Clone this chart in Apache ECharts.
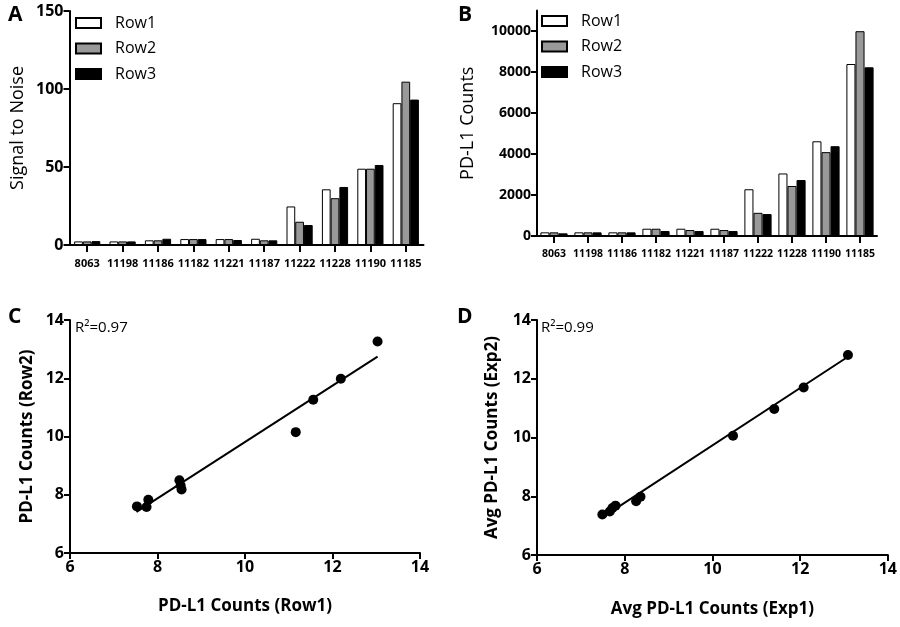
<!DOCTYPE html>
<html>
<head>
<meta charset="utf-8">
<script src="https://cdn.jsdelivr.net/npm/echarts@6/dist/echarts.min.js"></script>
<style>
  html, body { margin: 0; padding: 0; background: #fff; }
  #main { width: 900px; height: 627px; }
</style>
</head>
<body>
<div id="main"></div>
<script>
// data
const categories = ["8063", "11198", "11186", "11182", "11221", "11187", "11222", "11228", "11190", "11185"];
const rowNames = ["Row1", "Row2", "Row3"];

// panel A: signal to noise
const snRow1 = [2.3, 2.3, 3.0, 3.8, 3.8, 4.0, 24.7, 35.7, 48.9, 90.9];
const snRow2 = [2.3, 2.3, 3.0, 3.8, 3.8, 3.0, 14.9, 30.0, 48.9, 104.7];
const snRow3 = [2.5, 2.3, 4.0, 3.8, 3.2, 3.0, 12.8, 37.2, 51.3, 93.2];

// panel B: PD-L1 counts
const countRow1 = [178, 178, 178, 355, 355, 355, 2280, 3050, 4620, 8390];
const countRow2 = [178, 178, 178, 355, 290, 290, 1130, 2440, 4090, 9990];
const countRow3 = [130, 178, 178, 242, 242, 242, 1070, 2730, 4380, 8230];

// panel C: Row1 vs Row2 (log scale values)
const corrRow1 = [7.53, 7.75, 7.79, 8.50, 8.53, 8.55, 11.16, 11.56, 12.19, 13.03];
const corrRow2 = [7.60, 7.58, 7.83, 8.50, 8.32, 8.18, 10.15, 11.26, 11.98, 13.26];
const fitC = [[7.52, 7.41], [13.03, 12.74]];

// panel D: Exp1 vs Exp2
const avgExp1 = [7.49, 7.66, 7.72, 7.79, 8.26, 8.36, 10.47, 11.41, 12.08, 13.09];
const avgExp2 = [7.38, 7.48, 7.60, 7.68, 7.83, 7.98, 10.06, 10.97, 11.70, 12.81];
const fitD = [[7.49, 7.28], [13.09, 12.75]];

const ticksSN = [0, 50, 100, 150];
const ticksCount = [0, 2000, 4000, 6000, 8000, 10000];

const font = "Open Sans";
const barColors = ["#ffffff", "#999999", "#000000"];

function axisLine() {
  return { show: true, lineStyle: { color: "#000", width: 2 } };
}

function catAxis(grid, size, margin) {
  return {
    type: "category", gridIndex: grid, data: categories,
    axisLine: axisLine(),
    axisTick: { show: true, alignWithLabel: true, length: 7, lineStyle: { color: "#000", width: 2 } },
    axisLabel: { color: "#000", fontFamily: font, fontWeight: "bold", fontSize: size, margin: margin, interval: 0 }
  };
}

function valAxis(grid, opts) {
  return Object.assign({
    type: "value", gridIndex: grid,
    axisLine: axisLine(),
    axisTick: { show: true, length: 6, lineStyle: { color: "#000", width: 2 } },
    splitLine: { show: false },
    nameLocation: "middle",
    nameTextStyle: { color: "#000", fontFamily: font, fontSize: 17 }
  }, opts);
}

function tickLabel(size) {
  return { color: "#000", fontFamily: font, fontWeight: "bold", fontSize: size, margin: 6, formatter: v => String(v) };
}

function boldName(size) {
  return { color: "#000", fontFamily: font, fontWeight: "bold", fontSize: size };
}

function bars(values, i, axis, gap) {
  return {
    type: "bar", name: rowNames[i], xAxisIndex: axis, yAxisIndex: axis,
    data: values, barGap: "0%", barCategoryGap: gap,
    itemStyle: { color: barColors[i], borderColor: "#000", borderWidth: 1 }
  };
}

function legend(left, top) {
  return {
    left: left, top: top, orient: "vertical", padding: 0,
    data: rowNames.map(n => ({ name: n })),
    icon: "rect", itemWidth: 25, itemHeight: 10, itemGap: 9.5,
    textStyle: { color: "#000", fontFamily: font, fontSize: 16, padding: [0, 0, 0, 9] }
  };
}

function letter(text, left, top) {
  return { text: text, left: left, top: top, textStyle: { fontFamily: font, fontWeight: "bold", fontSize: 21, color: "#000" } };
}

function rsq(text, left, top) {
  return { text: text, left: left, top: top, padding: 0, textStyle: { fontFamily: font, fontWeight: "normal", fontSize: 15, color: "#000" } };
}

const options = {
  backgroundColor: "#fff",
  animation: false,
  title: [
    letter("A", 3, 0), letter("B", 453, 0), letter("C", 3, 302), letter("D", 452, 302),
    rsq("R²=0.97", 75, 320), rsq("R²=0.99", 541, 320)
  ],
  legend: [legend(75, 15), legend(541, 13)],
  grid: [
    { left: 69.5, top: 11, width: 354, height: 234 },
    { left: 537, top: 10.5, width: 340, height: 225.5 },
    { left: 70, top: 320, width: 350, height: 233 },
    { left: 537, top: 320, width: 353, height: 235 }
  ],
  xAxis: [
    catAxis(0, 11, 13),
    catAxis(1, 10.5, 13),
    valAxis(2, { min: 6, max: 14, interval: 2, name: "PD-L1 Counts (Row1)", nameGap: 45,
      axisLabel: tickLabel(16), nameTextStyle: boldName(17) }),
    valAxis(3, { min: 6, max: 14, interval: 2, name: "Avg PD-L1 Counts (Exp1)", nameGap: 46,
      axisLabel: tickLabel(16), nameTextStyle: boldName(17) })
  ],
  yAxis: [
    valAxis(0, { min: 0, max: 150, interval: 50, name: "Signal to Noise", nameGap: 43,
      nameTextStyle: { color: "#000", fontFamily: font, fontSize: 18 },
      axisLabel: Object.assign(tickLabel(16), { customValues: ticksSN }),
      axisTick: { show: true, length: 6, customValues: ticksSN, lineStyle: { color: "#000", width: 2 } } }),
    valAxis(1, { min: 0, max: 11000, interval: 1000, name: "PD-L1 Counts", nameGap: 60,
      nameTextStyle: { color: "#000", fontFamily: font, fontSize: 18 },
      axisLabel: Object.assign(tickLabel(14), { customValues: ticksCount }),
      axisTick: { show: true, length: 6, customValues: ticksCount, lineStyle: { color: "#000", width: 2 } } }),
    valAxis(2, { min: 6, max: 14, interval: 2, name: "PD-L1 Counts (Row2)", nameGap: 34,
      axisLabel: tickLabel(16), nameTextStyle: boldName(17) }),
    valAxis(3, { min: 6, max: 14, interval: 2, name: "Avg PD-L1 Counts (Exp2)", nameGap: 36,
      axisLabel: tickLabel(16), nameTextStyle: boldName(17) })
  ],
  series: [
    bars(snRow1, 0, 0, "26%"),
    bars(snRow2, 1, 0, "26%"),
    bars(snRow3, 2, 0, "26%"),
    bars(countRow1, 0, 1, "20%"),
    bars(countRow2, 1, 1, "20%"),
    bars(countRow3, 2, 1, "20%"),
    {
      type: "line", xAxisIndex: 2, yAxisIndex: 2, data: fitC, showSymbol: false,
      lineStyle: { color: "#000", width: 2 }, z: 2
    },
    {
      type: "scatter", xAxisIndex: 2, yAxisIndex: 2, symbolSize: 10, z: 3,
      data: corrRow1.map((x, i) => [x, corrRow2[i]]), itemStyle: { color: "#000", opacity: 1 }
    },
    {
      type: "line", xAxisIndex: 3, yAxisIndex: 3, data: fitD, showSymbol: false,
      lineStyle: { color: "#000", width: 2 }, z: 2
    },
    {
      type: "scatter", xAxisIndex: 3, yAxisIndex: 3, symbolSize: 10, z: 3,
      data: avgExp1.map((x, i) => [x, avgExp2[i]]), itemStyle: { color: "#000", opacity: 1 }
    }
  ]
};

var myChart = echarts.init(document.getElementById("main"), null, { renderer: "canvas" });
myChart.setOption(options);
</script>
</body>
</html>
